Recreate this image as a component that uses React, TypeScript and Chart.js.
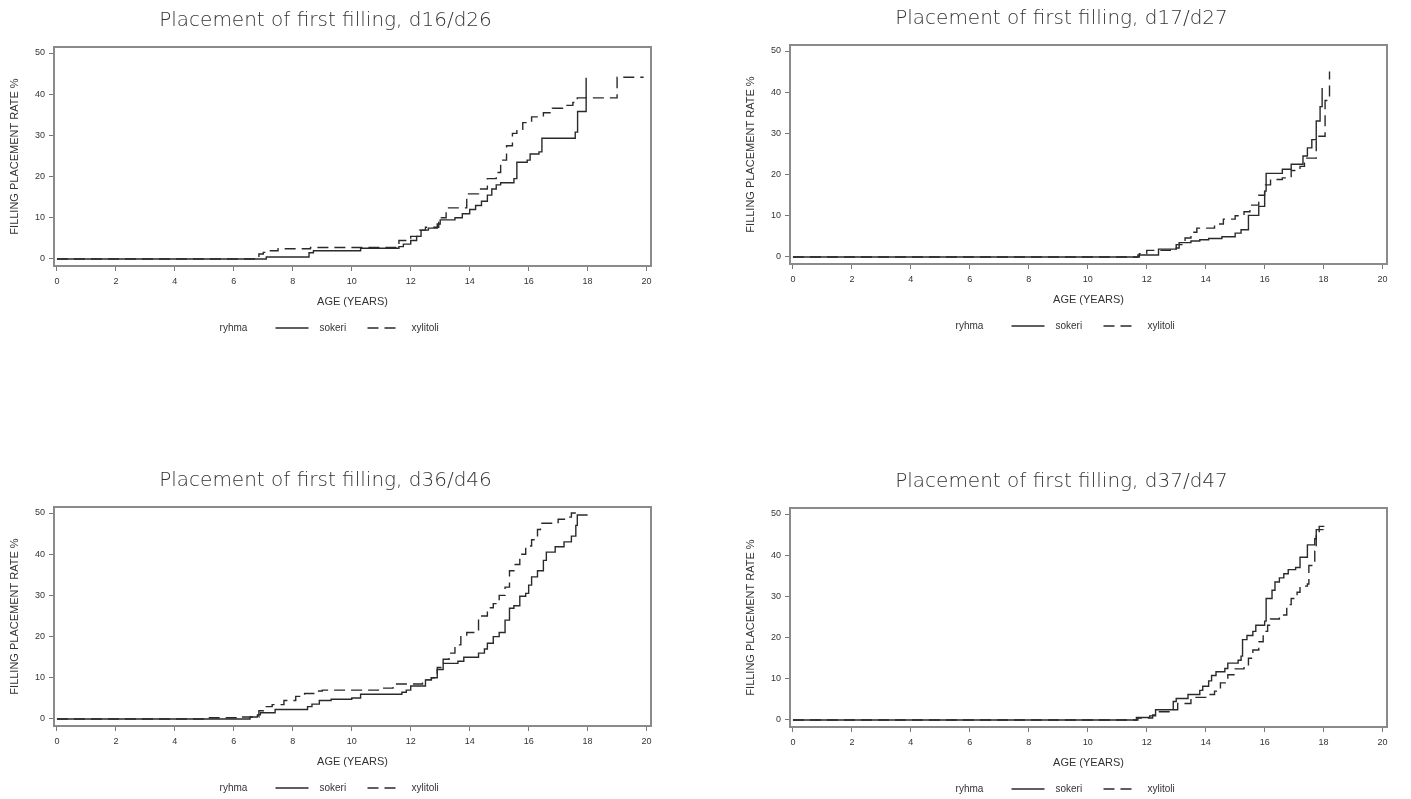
import React, { useEffect, useRef } from "react";
import { Chart, registerables } from "chart.js";

Chart.register(...registerables);

// ---------- labels ----------
const panelTitles = [
  "Placement of first filling, d16/d26",
  "Placement of first filling, d17/d27",
  "Placement of first filling, d36/d46",
  "Placement of first filling, d37/d47",
];
const xAxisTitle = "AGE (YEARS)";
const yAxisTitle = "FILLING PLACEMENT RATE %";
const legendTitle = "ryhma";
const seriesNames = ["sokeri", "xylitoli"];
const xTicks = [0, 2, 4, 6, 8, 10, 12, 14, 16, 18, 20];
const yTicks = [0, 10, 20, 30, 40, 50];

// ---------- data (age in years, cumulative rate %) ----------
const d16SokeriAge = [0, 7.1, 8.55, 8.7, 10.3, 11.6, 11.75, 12.0, 12.2, 12.35, 12.6, 12.9, 13.0, 13.5, 13.75, 14.0, 14.2, 14.4, 14.6, 14.75, 14.9, 15.05, 15.5, 15.6, 15.95, 16.05, 16.35, 16.45, 17.58, 17.66, 17.95];
const d16SokeriRate = [0, 0.5, 1.5, 2.0, 2.6, 3.0, 3.6, 4.5, 5.5, 7.0, 7.5, 8.5, 9.5, 10.0, 11.0, 12.0, 13.0, 14.0, 15.5, 17.0, 18.0, 18.5, 19.5, 23.5, 24.0, 25.5, 26.0, 29.3, 30.8, 35.8, 44.0];
const d16XylitoliAge = [0, 6.85, 7.0, 7.2, 7.5, 8.6, 11.6, 12.0, 12.3, 12.5, 12.95, 13.2, 13.9, 14.3, 14.6, 14.9, 15.05, 15.25, 15.45, 15.6, 15.8, 16.1, 16.5, 16.8, 17.2, 17.5, 17.65, 19.0, 19.9];
const d16XylitoliRate = [0, 1.2, 1.6, 2.0, 2.5, 2.8, 4.5, 5.5, 7.0, 7.7, 10.0, 12.4, 15.8, 17.0, 19.5, 21.0, 24.0, 27.5, 30.5, 31.5, 33.1, 34.5, 35.5, 36.6, 37.3, 38.0, 39.1, 44.1, 44.1];

const d17SokeriAge = [0, 11.7, 12.4, 13.0, 13.1, 13.5, 13.8, 14.1, 14.55, 15.0, 15.2, 15.45, 15.8, 16.0, 16.05, 16.6, 16.9, 17.3, 17.45, 17.6, 17.75, 17.88, 17.95];
const d17SokeriRate = [0, 0.5, 1.9, 2.2, 3.5, 3.9, 4.2, 4.5, 4.9, 5.8, 6.6, 10.1, 12.3, 16.0, 20.3, 21.3, 22.5, 24.5, 26.5, 28.5, 33.0, 36.5, 41.0];
const d17XylitoliAge = [0, 11.75, 12.0, 12.8, 13.0, 13.3, 13.5, 13.7, 14.3, 14.6, 15.0, 15.3, 15.5, 15.8, 16.0, 16.2, 16.6, 16.9, 17.2, 17.35, 17.75, 18.05, 18.2];
const d17XylitoliRate = [0, 0.8, 1.6, 2.0, 3.0, 4.6, 6.0, 7.0, 8.0, 9.2, 10.0, 11.0, 12.6, 15.0, 17.5, 18.8, 19.2, 21.0, 22.0, 24.0, 29.3, 38.0, 45.0];

const d36SokeriAge = [0, 6.55, 6.8, 6.9, 7.4, 8.5, 8.65, 8.9, 9.3, 10.0, 10.3, 11.7, 11.85, 12.0, 12.5, 12.7, 12.9, 13.1, 13.6, 13.8, 14.3, 14.5, 14.6, 14.8, 15.0, 15.2, 15.35, 15.5, 15.7, 15.9, 16.0, 16.1, 16.3, 16.5, 16.6, 16.9, 17.2, 17.45, 17.6, 17.65, 18.0];
const d36SokeriRate = [0, 0.5, 1.0, 1.5, 2.3, 3.0, 3.6, 4.5, 4.8, 5.1, 6.0, 6.5, 7.0, 8.0, 9.5, 10.0, 12.0, 13.5, 14.0, 15.0, 16.0, 17.0, 18.4, 20.0, 21.0, 24.0, 26.9, 27.5, 29.8, 30.5, 32.5, 34.5, 36.0, 38.5, 40.5, 41.8, 43.0, 44.4, 47.0, 49.5, 49.5];
const d36XylitoliAge = [0, 5.1, 6.2, 6.85, 7.0, 7.3, 7.7, 8.1, 8.4, 8.8, 9.0, 11.0, 11.4, 12.4, 12.7, 12.9, 13.1, 13.3, 13.5, 13.7, 13.9, 14.3, 14.6, 14.8, 15.0, 15.2, 15.35, 15.5, 15.7, 15.9, 16.1, 16.3, 16.4, 17.0, 17.3, 17.45, 17.6];
const d36XylitoliRate = [0, 0.3, 0.5, 2.0, 3.0, 3.5, 4.5, 5.5, 6.2, 6.8, 7.0, 7.5, 8.5, 9.5, 10.0, 12.5, 14.5, 16.0, 18.0, 20.0, 21.0, 25.0, 27.0, 28.0, 30.0, 32.0, 36.0, 37.5, 40.0, 42.0, 43.5, 46.0, 47.5, 48.5, 49.0, 50.0, 50.0];

const d37SokeriAge = [0, 11.65, 12.1, 12.3, 12.9, 13.0, 13.4, 13.8, 13.9, 14.1, 14.2, 14.35, 14.65, 14.75, 15.1, 15.2, 15.25, 15.4, 15.6, 15.7, 16.0, 16.05, 16.25, 16.35, 16.5, 16.65, 16.8, 17.05, 17.2, 17.45, 17.7, 17.75, 18.0];
const d37SokeriRate = [0, 0.6, 1.0, 2.5, 4.5, 5.2, 6.2, 7.2, 8.2, 9.5, 10.8, 11.7, 12.5, 13.8, 14.5, 15.5, 19.5, 20.5, 21.5, 23.0, 24.0, 29.5, 31.5, 33.5, 34.5, 35.5, 36.5, 37.0, 39.5, 42.5, 44.0, 46.2, 46.2];
const d37XylitoliAge = [0, 11.7, 12.2, 12.4, 12.8, 13.05, 13.5, 14.0, 14.3, 14.5, 14.75, 15.0, 15.3, 15.45, 15.6, 15.8, 15.95, 16.1, 16.2, 16.5, 16.75, 16.9, 17.1, 17.2, 17.45, 17.5, 17.7, 17.75, 17.85, 18.05];
const d37XylitoliRate = [0, 0.5, 1.2, 2.0, 2.5, 4.0, 5.5, 6.2, 7.0, 9.0, 11.0, 12.4, 13.0, 15.0, 17.0, 19.0, 21.5, 23.0, 24.5, 25.5, 28.0, 29.5, 31.0, 32.5, 33.0, 37.5, 41.0, 45.0, 47.0, 47.0];

// ---------- panels ----------
const panels = [
  { title: panelTitles[0], sAge: d16SokeriAge, sRate: d16SokeriRate, xAge: d16XylitoliAge, xRate: d16XylitoliRate, left: 0, top: 0 },
  { title: panelTitles[1], sAge: d17SokeriAge, sRate: d17SokeriRate, xAge: d17XylitoliAge, xRate: d17XylitoliRate, left: 736, top: -2 },
  { title: panelTitles[2], sAge: d36SokeriAge, sRate: d36SokeriRate, xAge: d36XylitoliAge, xRate: d36XylitoliRate, left: 0, top: 460 },
  { title: panelTitles[3], sAge: d37SokeriAge, sRate: d37SokeriRate, xAge: d37XylitoliAge, xRate: d37XylitoliRate, left: 736, top: 461 },
];

const CANVAS_W = 660;
const CANVAS_H = 345;
const LEGEND_Y = 328;
const LINE_COLOR = "#2a2a2a";
const DASH = [11, 6];

const framePlugin = {
  id: "samFrame",
  beforeDatasetsDraw(chart: any) {
    const { ctx, chartArea: a } = chart;
    ctx.save();
    ctx.strokeStyle = "#8a8a8a";
    ctx.lineWidth = 2;
    ctx.strokeRect(a.left, a.top, a.right - a.left, a.bottom - a.top);
    ctx.restore();
  },
  afterDraw(chart: any) {
    const { ctx, chartArea: a } = chart;
    const cx = (a.left + a.right) / 2;
    const y = LEGEND_Y;
    ctx.save();
    ctx.font = '10px "Liberation Sans", Arial, sans-serif';
    ctx.fillStyle = "#333";
    ctx.textBaseline = "middle";
    ctx.textAlign = "center";
    ctx.fillText(legendTitle, cx - 119, y);
    ctx.strokeStyle = LINE_COLOR;
    ctx.lineWidth = 1.3;
    ctx.beginPath();
    ctx.moveTo(cx - 77, y);
    ctx.lineTo(cx - 44, y);
    ctx.stroke();
    ctx.textAlign = "left";
    ctx.fillText(seriesNames[0], cx - 33, y);
    ctx.setLineDash(DASH);
    ctx.beginPath();
    ctx.moveTo(cx + 15, y);
    ctx.lineTo(cx + 49, y);
    ctx.stroke();
    ctx.setLineDash([]);
    ctx.fillText(seriesNames[1], cx + 59, y);
    ctx.restore();
  },
};

function toPoints(ages: number[], rates: number[]) {
  return ages.map((a, i) => ({ x: a, y: rates[i] }));
}

function Panel(props: any) {
  const ref = useRef<HTMLCanvasElement | null>(null);
  useEffect(() => {
    if (!ref.current) return;
    const tickFont = { family: '"Liberation Sans", Arial, sans-serif', size: 9 };
    const titleFont = { family: '"Liberation Sans", Arial, sans-serif', size: 11 };
    const grid = {
      display: true,
      drawOnChartArea: false,
      drawTicks: true,
      tickLength: 5,
      color: "#777",
      lineWidth: 1,
    };
    const chart = new Chart(ref.current, {
      type: "line",
      data: {
        datasets: [
          {
            label: seriesNames[0],
            data: toPoints(props.sAge, props.sRate),
            borderColor: LINE_COLOR,
            borderWidth: 1.4,
            pointRadius: 0,
            stepped: true,
            fill: false,
          },
          {
            label: seriesNames[1],
            data: toPoints(props.xAge, props.xRate),
            borderColor: LINE_COLOR,
            borderWidth: 1.4,
            borderDash: DASH,
            pointRadius: 0,
            stepped: true,
            fill: false,
          },
        ],
      },
      options: {
        responsive: false,
        animation: false,
        devicePixelRatio: 1,
        events: [],
        layout: { padding: { left: 0, right: 9, top: 0, bottom: 34 } },
        plugins: {
          legend: { display: false },
          tooltip: { enabled: false },
          title: {
            display: true,
            text: props.title,
            color: "#333333",
            font: { family: '"DejaVu Sans", sans-serif', size: 20, weight: "200" },
            padding: { top: 9, bottom: 14 },
          },
        },
        scales: {
          x: {
            type: "linear",
            min: -0.1,
            max: 20.15,
            afterBuildTicks: (s: any) => {
              s.ticks = xTicks.map((v) => ({ value: v }));
            },
            afterFit: (s: any) => {
              s.height = 45;
            },
            ticks: { font: tickFont, color: "#333", padding: 5, maxRotation: 0, autoSkip: false },
            grid,
            border: { display: false },
            title: { display: true, text: xAxisTitle, font: titleFont, color: "#333", padding: { top: 0, bottom: 2 } },
          },
          y: {
            type: "linear",
            min: -1.7,
            max: 51.46,
            afterBuildTicks: (s: any) => {
              s.ticks = yTicks.map((v) => ({ value: v }));
            },
            afterFit: (s: any) => {
              s.width = 54;
            },
            ticks: { font: tickFont, color: "#333", padding: 4, autoSkip: false },
            grid,
            border: { display: false },
            title: { display: true, text: yAxisTitle, font: titleFont, color: "#333", padding: { top: 8, bottom: 0 } },
          },
        },
      },
      plugins: [framePlugin],
    } as any);
    return () => chart.destroy();
  }, []);
  return (
    <canvas
      ref={ref}
      width={CANVAS_W}
      height={CANVAS_H}
      style={{ position: "absolute", left: props.left, top: props.top, width: CANVAS_W, height: CANVAS_H }}
    />
  );
}

export default function App() {
  return (
    <div
      style={{
        position: "absolute",
        left: 0,
        top: 0,
        width: 1411,
        height: 799,
        overflow: "hidden",
        background: "#fff",
      }}
    >
      {panels.map((p, i) => (
        <Panel key={i} {...p} />
      ))}
    </div>
  );
}
